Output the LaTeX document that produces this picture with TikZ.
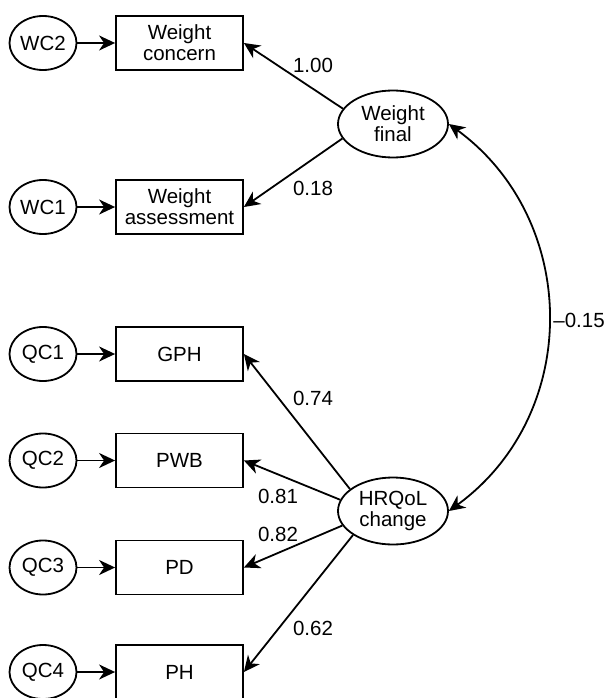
\documentclass[tikz,border=0pt]{standalone}
\usepackage{fontspec}
\setmainfont{Liberation Sans}
\usetikzlibrary{shapes.geometric,arrows.meta}
\begin{document}
\begin{tikzpicture}[x=1pt,y=-1pt,
  every node/.style={font=\fontsize{20.5}{21}\selectfont, inner sep=0pt, align=center},
  obs/.style={draw, line width=1.8pt, minimum width=127pt, minimum height=54pt},
  err/.style={draw, ellipse, line width=1.8pt, minimum width=67pt, minimum height=54pt},
  lat/.style={draw, ellipse, line width=1.8pt, minimum width=110pt, minimum height=67pt},
  tip/.tip={Stealth[length=16pt,width=15pt,inset=5pt]},
  arr/.style={line width=1.8pt, -tip},
  lbl/.style={}]
\useasboundingbox (0,0) rectangle (609,698);
% error ellipses and observed boxes
\node[err] (wc2) at (43,43) {WC2};
\node[obs] (wcon) at (179.5,43) {Weight\\concern};
\node[err] (wc1) at (43,207) {WC1};
\node[obs] (wass) at (179.5,207) {Weight\\assessment};
\node[err] (qc1) at (43,354) {QC1};
\node[obs] (gph) at (179.5,354) {GPH};
\node[err] (qc2) at (43,460.5) {QC2};
\node[obs] (pwb) at (179.5,460.5) {PWB};
\node[err] (qc3) at (43,567.5) {QC3};
\node[obs] (pd) at (179.5,567.5) {PD};
\node[err] (qc4) at (43,672) {QC4};
\node[obs] (ph) at (179.5,672) {PH};
% latent
\node[lat] (wf) at (393,124) {Weight\\final};
\node[lat] (hq) at (393,511) {HRQoL\\change};
% error arrows
\foreach \a/\b in {wc2/wcon,wc1/wass,qc1/gph,qc2/pwb,qc3/pd,qc4/ph}
  \draw[arr] (\a.east) -- (\b.west);
% loadings
\draw[arr] (wf.163) -- (wcon.east);
\draw[arr] (wf.196) -- (wass.east);
\draw[arr] (hq.153) -- (gph.east);
\draw[arr] (hq.168) -- (pwb.east);
\draw[arr] (hq.196) -- (pd.east);
\draw[arr] (hq.211) -- (ph.east);
% covariance
\draw[line width=1.8pt, tip-tip]
  (wf.east) .. controls (580,220) and (582,414) .. (hq.east);
% labels
\node[lbl] (l1) at (313,65) {1.00};
\node[lbl] (l2) at (313,188) {0.18};
\node[lbl] (l3) at (313,398) {0.74};
\node[lbl] (l4) at (278,496) {0.81};
\node[lbl] (l5) at (278,534) {0.82};
\node[lbl] (l6) at (313,628) {0.62};
\node[lbl] (l7) at (579,320) {--0.15};
\end{tikzpicture}
\end{document}
